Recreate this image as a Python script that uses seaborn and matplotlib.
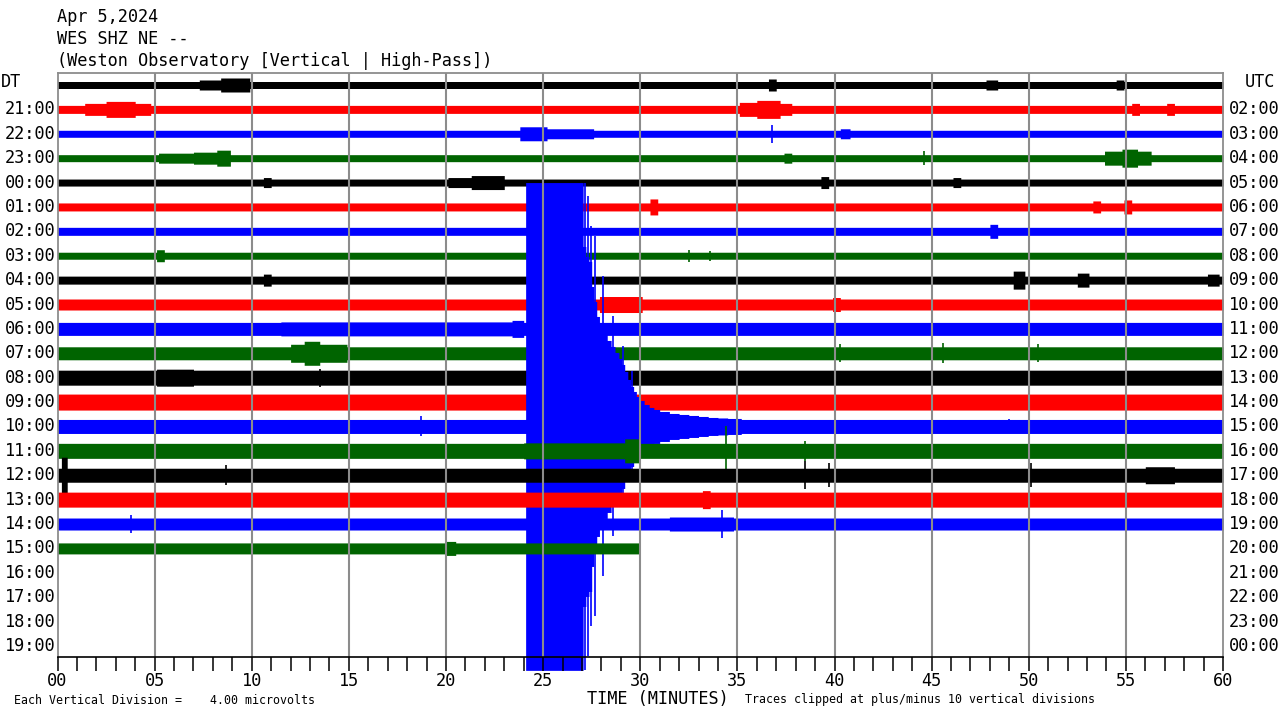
import numpy as np
import matplotlib
matplotlib.use("Agg")
import matplotlib.pyplot as plt
import matplotlib.transforms as mtransforms
import seaborn as sns

# ---------------- data ----------------
header_lines = ["Apr 5,2024", "WES SHZ NE --", "(Weston Observatory [Vertical | High-Pass])"]
left_labels = ["21:00", "22:00", "23:00"] + [f"{h:02d}:00" for h in range(0, 20)]
right_labels = [f"{h:02d}:00" for h in range(2, 24)] + ["00:00"]
minute_labels = [f"{m:02d}" for m in range(0, 61, 5)]

# row end (minutes) - the last row stops at the current time
row_end = [60] * 19 + [30.0] + [0] * 4
# background noise half-amplitude per row (pixels of a 24.4 px row spacing)
base_amp_px = [3.5, 4, 3.5, 3.5, 3.5, 4, 4, 3.5, 4, 5.5, 6.5, 6.5, 7.5, 8, 7, 7.5, 7, 7.5, 6, 5.5]

# bursts: (row, start minute, end minute, half amplitude px)
bursts = [
    (0, 7.3, 8.4, 5), (0, 8.4, 9.9, 7), (0, 36.6, 37.0, 6), (0, 47.8, 48.4, 5), (0, 54.5, 54.9, 5),
    (1, 1.4, 2.5, 6), (1, 2.5, 4.0, 8), (1, 4.0, 4.8, 6), (1, 35.1, 36.0, 7), (1, 36.0, 37.2, 9),
    (1, 37.2, 37.8, 6), (1, 55.3, 55.7, 6), (1, 57.1, 57.5, 6),
    (2, 23.8, 25.2, 7), (2, 25.2, 27.6, 5), (2, 40.3, 40.8, 5),
    (3, 5.2, 7.0, 5), (3, 7.0, 8.2, 6), (3, 8.2, 8.9, 8), (3, 37.4, 37.8, 5),
    (3, 53.9, 54.8, 7), (3, 54.8, 55.6, 9), (3, 55.6, 56.3, 7),
    (4, 20.1, 21.3, 5), (4, 21.3, 23.0, 7), (4, 10.6, 11.0, 5), (4, 39.3, 39.7, 6), (4, 46.1, 46.5, 5),
    (5, 30.5, 30.9, 8), (5, 53.3, 53.7, 6), (5, 54.9, 55.3, 7),
    (6, 48.0, 48.4, 7),
    (7, 5.1, 5.5, 6),
    (8, 10.6, 11.0, 6), (8, 49.2, 49.8, 9), (8, 52.5, 53.1, 7), (8, 59.2, 59.8, 6),
    (9, 27.9, 30.1, 8), (9, 39.9, 40.3, 7),
    (10, 11.5, 24.0, 7), (10, 23.4, 24.0, 8.5),
    (11, 12.0, 12.7, 9), (11, 12.7, 13.5, 12), (11, 13.5, 14.9, 9),
    (12, 5.1, 7.0, 8.5),
    (15, 24.0, 29.2, 8), (15, 29.2, 30.0, 12),
    (16, 0.2, 0.5, 18), (16, 56.0, 57.5, 8.5),
    (17, 33.2, 33.6, 9),
    (18, 31.5, 34.8, 7),
    (19, 20.0, 20.5, 7),
]

# isolated spikes: (row, minute, half amplitude px)
spikes = [
    (2, 36.8, 9), (3, 44.6, 7), (7, 32.5, 6), (7, 33.6, 5),
    (11, 40.3, 9), (11, 45.6, 10), (11, 50.5, 9),
    (12, 13.5, 9),
    (14, 18.7, 10), (14, 49.0, 7),
    (15, 34.4, 25), (15, 38.5, 10),
    (16, 8.7, 10), (16, 38.5, 14), (16, 39.7, 12), (16, 50.1, 12),
    (18, 3.8, 9), (18, 34.2, 14),
    (14, 27.15, 244), (14, 27.3, 230), (14, 27.45, 200), (14, 27.65, 190),
    (14, 28.1, 150), (14, 28.6, 110), (14, 29.1, 80), (14, 29.6, 55),
]

# earthquake on the 10:00 row: step envelope (minute, half amplitude px)
quake_row = 14
quake_t = [24.1, 27.05, 27.2, 27.35, 27.5, 27.6, 27.75, 27.9, 28.1, 28.3, 28.5, 28.7,
           28.9, 29.05, 29.2, 29.35, 29.5, 29.65, 29.8, 30.0, 30.2, 30.45, 30.7, 31.0,
           31.5, 32.0, 32.5, 33.0, 33.5, 34.0, 34.5, 35.2]
quake_amp_px = [244, 180, 170, 165, 140, 125, 110, 100, 92, 86, 80, 74,
                68, 62, 55, 47, 40, 35, 30, 26, 22, 19, 17, 15,
                13, 12, 11, 10, 9, 8.5, 8, 0]

ROW_PX = 24.39
CLIP_ROWS = 10.0
palette = sns.color_palette(["#000000", "#ff0000", "#0000ff", "#006400"])

# ---------------- figure ----------------
sns.set_theme(style="white")
plt.rcParams["font.family"] = ["DejaVu Sans Mono"]
plt.rcParams["text.color"] = "black"
plt.rcParams["xtick.color"] = "black"
plt.rcParams["xtick.labelcolor"] = "black"

fig = plt.figure(figsize=(12.8, 7.2), dpi=100)
fig.patch.set_facecolor("white")
ax = fig.add_axes([57.5 / 1280, 1 - 657 / 720, (1223 - 57.5) / 1280, (657 - 73) / 720])
ax.set_facecolor("white")
ax.set_xlim(0, 60)
ax.set_ylim((657 - 85) / ROW_PX, -12 / ROW_PX)

t = np.arange(0, 60.0001, 0.02)
for i, amp0 in enumerate(base_amp_px):
    end = row_end[i]
    if end <= 0:
        continue
    amp = np.full_like(t, amp0, dtype=float)
    for (r, a, b, v) in bursts:
        if r == i:
            m = (t >= a) & (t < b)
            amp[m] = np.maximum(amp[m], v)
    if i == quake_row:
        for k, t0 in enumerate(quake_t):
            t1 = quake_t[k + 1] if k + 1 < len(quake_t) else 60
            m = (t >= t0) & (t < t1)
            amp[m] = np.maximum(amp[m], quake_amp_px[k])
    amp = np.minimum(amp / ROW_PX, CLIP_ROWS)
    keep = t <= end
    col = palette[i % 4]
    ax.fill_between(t[keep], i - amp[keep], i + amp[keep], step="post", color=col,
                    lw=0, zorder=10 + i, clip_on=(i != quake_row))
    for (r, x, v) in spikes:
        if r == i and x <= end:
            h = min(v / ROW_PX, CLIP_ROWS)
            ax.vlines(x, i - h, i + h, color=col, lw=1.2, zorder=10 + i,
                      clip_on=(i != quake_row))

# grid & axes styling
grid_col = "#8c8c8c"
for m in range(5, 60, 5):
    ax.axvline(m, color=grid_col, lw=1.5, zorder=100)
for side in ["left", "right", "top"]:
    ax.spines[side].set_color(grid_col)
    ax.spines[side].set_linewidth(1.3)
    ax.spines[side].set_zorder(101)
ax.spines["bottom"].set_color("black")
ax.spines["bottom"].set_linewidth(1.2)
ax.spines["bottom"].set_zorder(101)

ax.set_xticks(range(0, 61, 5))
ax.set_xticklabels(minute_labels, fontsize=12.2, color="black")
ax.set_xticks(range(0, 61), minor=True)
ax.tick_params(axis="x", which="both", direction="out", length=10, width=1.1,
               color="black", labelcolor="black", pad=0.5, bottom=True)
ax.xaxis.set_zorder(102)
ax.set_yticks([])

# row labels
blend = mtransforms.blended_transform_factory(ax.transAxes, ax.transData)
for k, lab in enumerate(left_labels):
    ax.text(-0.0017, k + 1, lab, transform=blend, ha="right", va="center",
            fontsize=12.2, color="black", clip_on=False)
for k, lab in enumerate(right_labels):
    ax.text(1.0052, k + 1, lab, transform=blend, ha="left", va="center",
            fontsize=12.2, color="black", clip_on=False)
fig.text(1 / 1280, 1 - 82 / 720, "DT", ha="left", va="center", fontsize=12.2, color="black")
fig.text(1260 / 1280, 1 - 82 / 720, "UTC", ha="center", va="center", fontsize=12.2, color="black")

# header
for k, line in enumerate(header_lines):
    fig.text(57 / 1280, 1 - (17 + 22 * k) / 720, line, ha="left", va="center",
             fontsize=12.2, color="black")

# footer
fig.text(14 / 1280, 1 - 700 / 720, "Each Vertical Division =    4.00 microvolts",
         ha="left", va="center", fontsize=8.4, color="black")
fig.text(587 / 1280, 1 - 699 / 720, "TIME (MINUTES)", ha="left", va="center",
         fontsize=12.2, color="black")
fig.text(745 / 1280, 1 - 700 / 720, "Traces clipped at plus/minus 10 vertical divisions",
         ha="left", va="center", fontsize=8.4, color="black")

fig.savefig("out.png", dpi=100, facecolor="white")
